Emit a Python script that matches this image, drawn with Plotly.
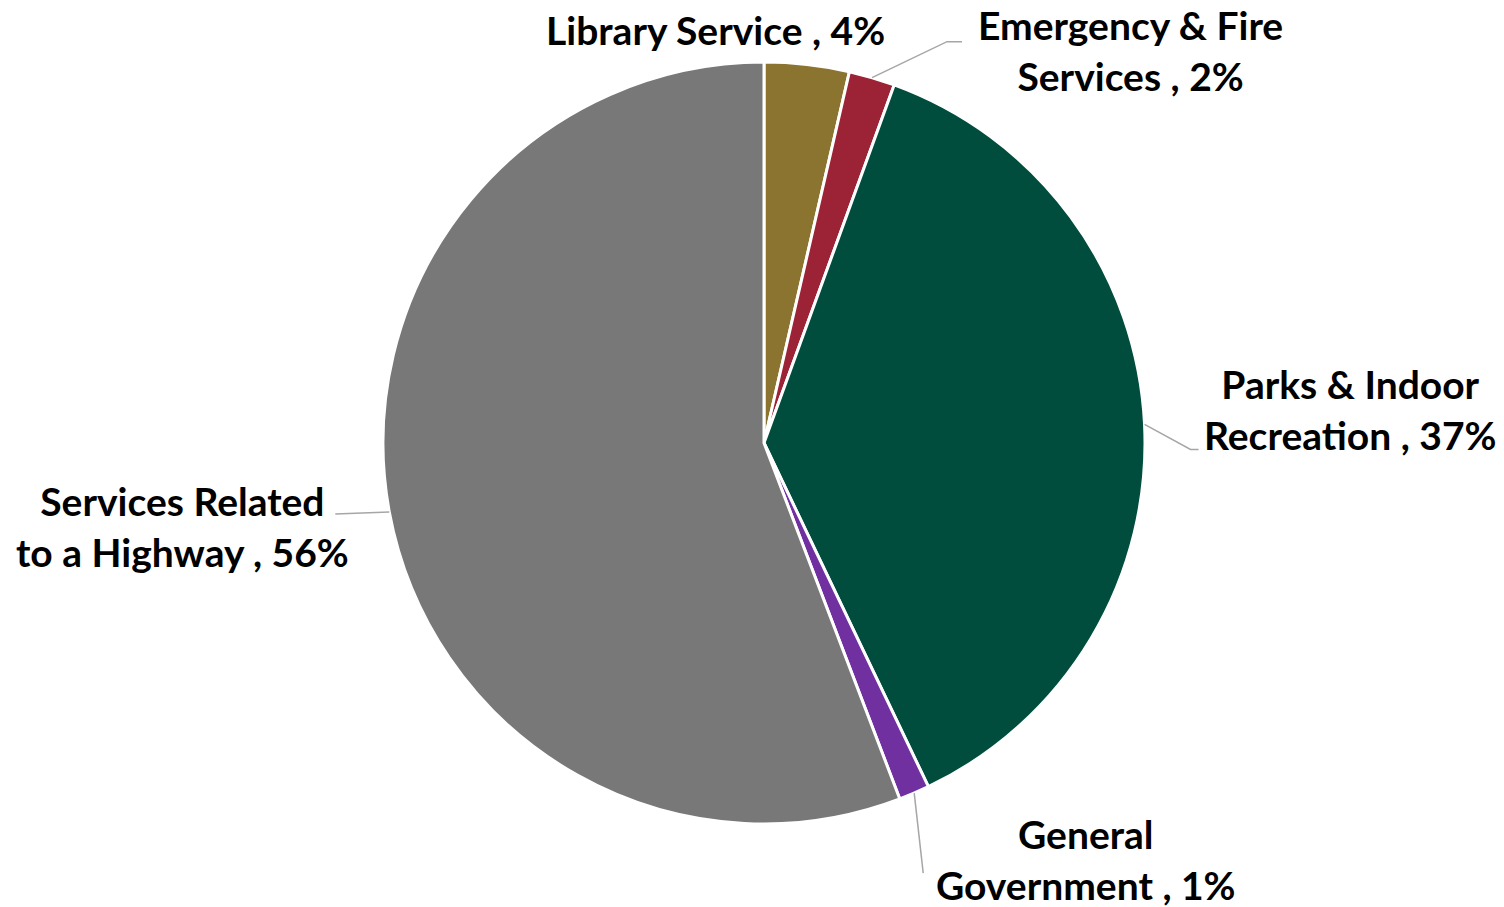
import math
import plotly.graph_objects as go

# ---- data ----
categories = ["Library Service", "Emergency & Fire Services", "Parks & Indoor Recreation",
              "General Government", "Services Related to a Highway"]
values = [3.6, 1.95, 37.35, 1.3, 55.8]
colors = ["#8B7330", "#9B2335", "#004D3D", "#7030A0", "#787878"]
# where each label wraps onto a second line (None = single line)
wrap_after = [None, "Fire", "Indoor", "General", "Related"]

# ---- layout / style ----
PAGE = 8                            # default body margin of the html page
W, H = 1504 - PAGE, 907 - PAGE      # figure size so it fits the window
CX, CY, R = 764, 443, 381           # pie centre and radius in window pixels
FONT = dict(family="Lato", size=39, color="#000000", weight="bold")
LINE_COLOR = "#A6A6A6"

# label placement relative to each slice's outer mid point (dx, dy) in px,
# plus the elbow of the leader line (None = no leader line)
label_offset = [(-91, -34), (258, -27), (206, -15), (172, 66), (-207, 14)]
leader = [None,
          [(75, -36), (90, -36)],
          [(46, 25), (54, 25)],
          [(9, 80)],
          [(-54, 2)]]

def px(x):
    return (x - PAGE) / W

def py(y):
    return 1 - (y - PAGE) / H

fig = go.Figure(go.Pie(
    labels=categories, values=values, sort=False, direction="clockwise", rotation=0,
    marker=dict(colors=colors, line=dict(color="#FFFFFF", width=3)),
    textinfo="none", hoverinfo="label+percent", showlegend=False,
    domain=dict(x=[px(CX - R), px(CX + R)], y=[py(CY + R), py(CY - R)]),
))

total = sum(values)
cum = 0.0
shapes, annotations = [], []
for i, (cat, v) in enumerate(zip(categories, values)):
    mid = (cum + v / 2) / total * 2 * math.pi
    cum += v
    ex, ey = CX + R * math.sin(mid), CY - R * math.cos(mid)
    pct = f"{round(v / total * 100)}%"
    name = cat
    if wrap_after[i]:
        k = cat.index(wrap_after[i]) + len(wrap_after[i])
        name = cat[:k] + "<br>" + cat[k + 1:]
    text = f"{name} , {pct}"
    dx, dy = label_offset[i]
    annotations.append(dict(x=px(ex + dx), y=py(ey + dy), xref="paper", yref="paper",
                            text=text, showarrow=False, font=FONT, align="center",
                            xanchor="center", yanchor="middle"))
    if leader[i]:
        pts = [(ex, ey)] + [(ex + a, ey + b) for a, b in leader[i]]
        path = "M " + " L ".join(f"{px(x)},{py(y)}" for x, y in pts)
        shapes.append(dict(type="path", path=path, xref="paper", yref="paper",
                           line=dict(color=LINE_COLOR, width=1.5)))

fig.update_layout(
    width=W, height=H, margin=dict(l=0, r=0, t=0, b=0),
    paper_bgcolor="#FFFFFF", plot_bgcolor="#FFFFFF",
    shapes=shapes, annotations=annotations,
)
fig.write_html("out.html")
